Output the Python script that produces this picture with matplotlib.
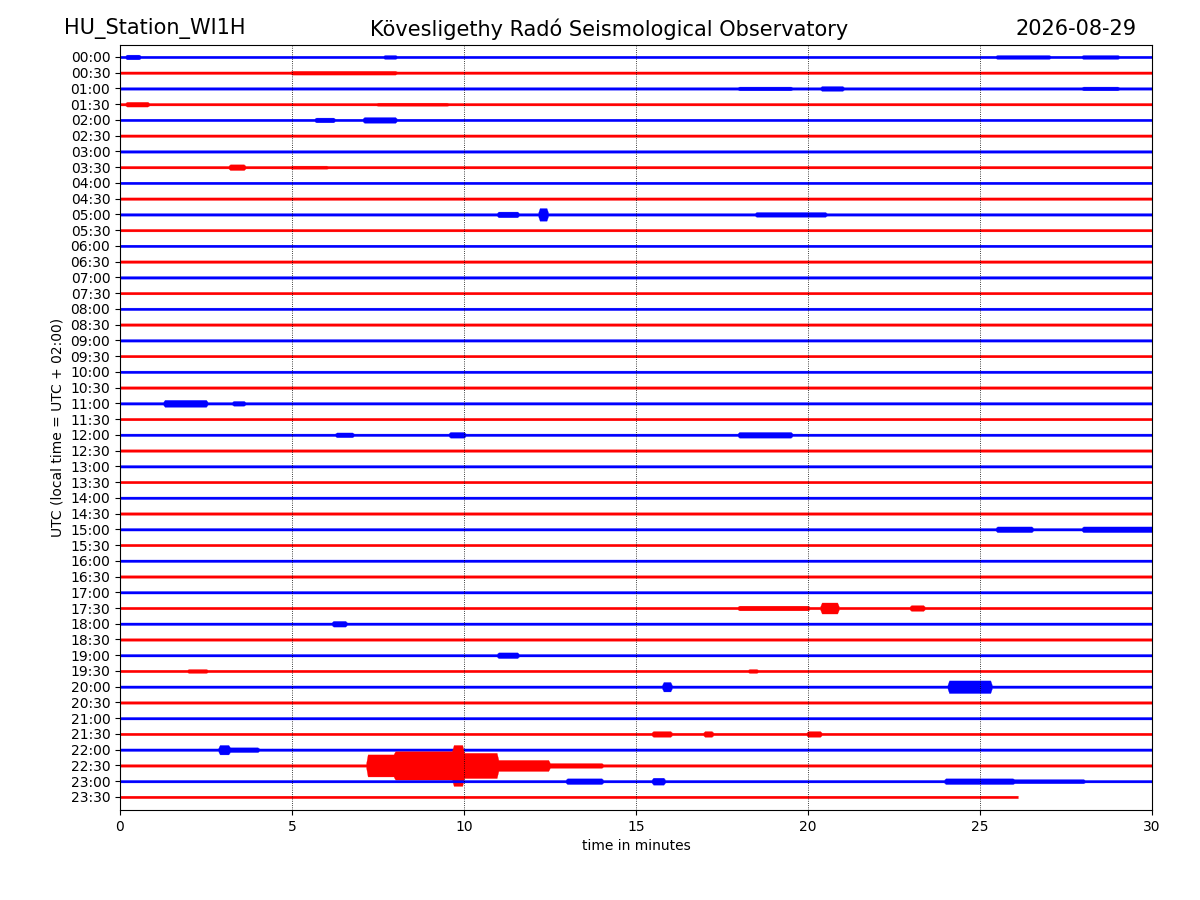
import numpy as np
import matplotlib.pyplot as plt

# row -> list of (start min, end min, half-amplitude in row units)
base_amp = 0.08
events = {
    0: [(0.2, 0.6, 0.15), (7.7, 8.0, 0.12), (25.5, 27.0, 0.12), (28.0, 29.0, 0.12)],
    1: [(5.0, 8.0, 0.12)],
    2: [(18.0, 19.5, 0.12), (20.4, 21.0, 0.15), (28.0, 29.0, 0.12)],
    3: [(0.2, 0.8, 0.15), (7.5, 9.5, 0.1)],
    4: [(5.7, 6.2, 0.15), (7.1, 8.0, 0.18)],
    7: [(3.2, 3.6, 0.18), (5.0, 6.0, 0.1)],
    10: [(11.0, 11.6, 0.18), (12.2, 12.4, 0.4), (18.5, 20.5, 0.15)],
    22: [(1.3, 2.5, 0.22), (3.3, 3.6, 0.15)],
    24: [(6.3, 6.8, 0.15), (9.6, 10.0, 0.18), (18.0, 19.5, 0.18)],
    30: [(25.5, 26.5, 0.18), (28.0, 30.0, 0.18)],
    35: [(18.0, 20.0, 0.15), (20.4, 20.9, 0.35), (23.0, 23.4, 0.18)],
    36: [(6.2, 6.6, 0.18)],
    38: [(11.0, 11.6, 0.18)],
    39: [(2.0, 2.5, 0.12), (18.3, 18.5, 0.12)],
    40: [(15.8, 16.0, 0.3), (24.1, 25.3, 0.4)],
    43: [(15.5, 16.0, 0.18), (17.0, 17.2, 0.18), (20.0, 20.4, 0.18)],
    44: [(2.9, 3.2, 0.3), (3.2, 4.0, 0.15)],
    45: [(7.2, 8.0, 0.7), (8.0, 9.7, 0.9), (9.7, 10.0, 1.3), (10.0, 11.0, 0.8), (11.0, 12.5, 0.35), (12.5, 14.0, 0.15)],
    46: [(13.0, 14.0, 0.18), (15.5, 15.8, 0.22), (24.0, 26.0, 0.18), (26.0, 28.0, 0.13)],
}

t = np.arange(0, 30.01, 0.05)
labels = [f"{h:02d}:{m:02d}" for h in range(24) for m in (0, 30)]

fig = plt.figure(figsize=(12, 9), dpi=100)
ax = fig.add_axes([0.1, 0.1, 0.86, 0.85])

for i in range(48):
    env = np.full_like(t, base_amp)
    for t0, t1, a in events.get(i, []):
        env[(t >= t0) & (t <= t1)] = a
    end = 26.1 if i == 47 else 30.0
    mask = t <= end
    color = 'blue' if i % 2 == 0 else 'red'
    ax.fill_between(t[mask], -i - env[mask], -i + env[mask], color=color, lw=0.2)

for x in range(5, 30, 5):
    ax.axvline(x, color='black', ls=':', lw=0.6)

ax.set_xlim(0, 30)
ax.set_ylim(-47.83, 0.76)
ax.set_yticks([-i for i in range(48)])
ax.set_yticklabels(labels)
ax.set_xlabel('time in minutes')
ax.set_ylabel('UTC (local time = UTC + 02:00)')

fig.text(0.053, 0.968, 'HU_Station_WI1H', fontsize=15, va='center')
fig.text(0.508, 0.968, 'Kövesligethy Radó Seismological Observatory', fontsize=15, va='center', ha='center')
fig.text(0.947, 0.968, '2026-08-29', fontsize=15, va='center', ha='right')

fig.savefig('out.png')
